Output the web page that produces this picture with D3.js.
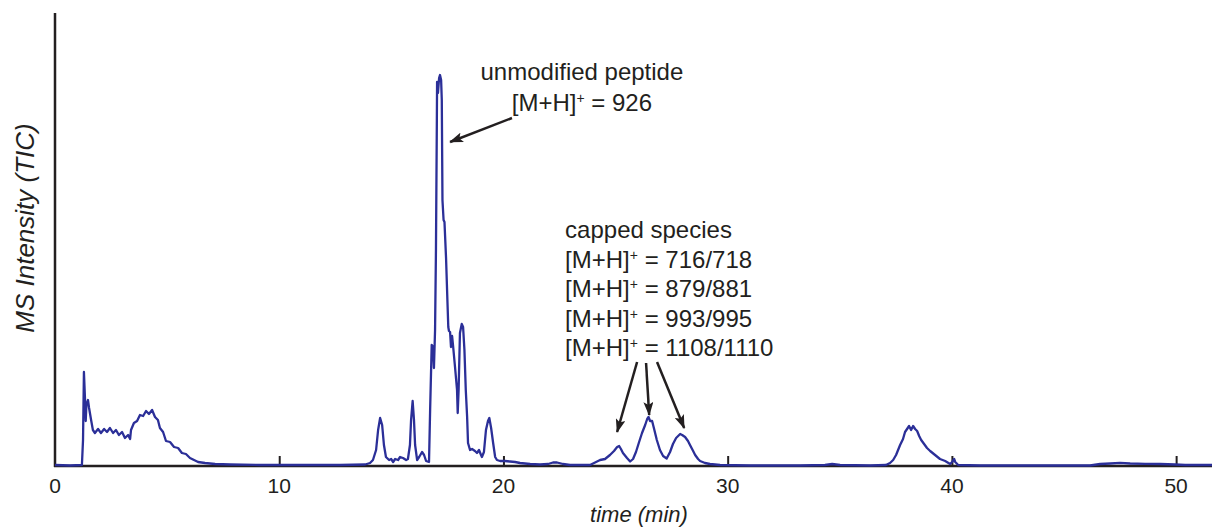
<!DOCTYPE html>
<html>
<head>
<meta charset="utf-8">
<script src="https://cdn.jsdelivr.net/npm/d3@7"></script>
<style>
  body { margin: 0; background: #fff; }
  svg text { font-family: Helvetica, Arial, "Liberation Sans", sans-serif; fill: #231f20; }
</style>
</head>
<body>
<svg id="chart"></svg>
<script>
var width = 1212;
var height = 527;

// retention time (min)
var times = [0, 0.67, 1.20, 1.25, 1.29, 1.34, 1.37, 1.40, 1.47, 1.52, 1.61, 1.69, 1.78, 1.92, 2.05, 2.19,
  2.32, 2.45, 2.59, 2.72, 2.85, 2.99, 3.12, 3.26, 3.35, 3.39, 3.52, 3.66, 3.79, 3.93, 4.06, 4.19,
  4.33, 4.46, 4.59, 4.68, 4.82, 4.95, 5.13, 5.31, 5.49, 5.66, 5.84, 6.02, 6.20, 6.38, 6.69, 7.14,
  7.81, 9.14, 10.93, 12.71, 13.83, 14.05, 14.18, 14.32, 14.41, 14.50, 14.59, 14.67, 14.76, 14.90,
  14.99, 15.08, 15.17, 15.30, 15.39, 15.52, 15.66, 15.74, 15.83, 15.88, 15.95, 16.01, 16.06, 16.15,
  16.24, 16.37, 16.46, 16.55, 16.68, 16.73, 16.80, 16.86, 16.90, 16.95, 16.99, 17.03, 17.04, 17.08,
  17.13, 17.17, 17.22, 17.25, 17.28, 17.33, 17.37, 17.44, 17.50, 17.54, 17.57, 17.62, 17.66, 17.71,
  17.75, 17.84, 17.93, 17.96, 18.00, 18.06, 18.14, 18.20, 18.26, 18.32, 18.38, 18.42, 18.51, 18.60,
  18.73, 18.82, 18.91, 19.00, 19.04, 19.13, 19.22, 19.31, 19.37, 19.45, 19.54, 19.63, 19.71, 19.85,
  20.07, 20.29, 20.52, 20.74, 21.19, 21.63, 21.99, 22.21, 22.39, 22.66, 22.97, 23.64, 23.86, 24.13,
  24.31, 24.53, 24.75, 24.93, 25.07, 25.16, 25.24, 25.33, 25.51, 25.65, 25.78, 25.91, 26.05, 26.18,
  26.32, 26.41, 26.47, 26.54, 26.63, 26.72, 26.84, 26.98, 27.12, 27.28, 27.43, 27.56, 27.70, 27.88,
  27.97, 28.10, 28.23, 28.32, 28.46, 28.55, 28.68, 28.77, 28.99, 29.21, 29.66, 31.00, 33.23, 34.34,
  34.66, 35.01, 36.35, 37.06, 37.24, 37.38, 37.51, 37.69, 37.82, 37.91, 38.00, 38.09, 38.18, 38.27,
  38.36, 38.45, 38.54, 38.63, 38.76, 38.89, 39.03, 39.25, 39.47, 39.70, 39.92, 40.01, 40.10, 40.15,
  40.28, 41.26, 44.38, 46.16, 46.61, 47.06, 47.50, 47.95, 48.62, 49.29, 49.96, 50.40, 51.61];

// total ion current (arbitrary units)
var tic = [1, 0.5, 1, 26, 94, 66, 45, 61, 66, 58, 46, 36, 33, 37, 33, 37,
  34, 38, 33, 36, 31, 34, 28, 31, 27, 36, 43, 45, 51, 50, 55, 52,
  56, 49, 46, 38, 34, 25, 24, 19, 18, 13, 12, 8, 6, 4, 3, 2,
  1.5, 1, 1, 1, 1.5, 3, 6, 16, 36, 48, 41, 21, 9, 6,
  7, 4, 7, 6, 9, 8, 6, 7, 21, 46, 65, 46, 21, 6,
  9, 14, 11, 5, 4, 56, 121, 119, 98, 136, 216, 346, 384, 373,
  388, 391, 386, 366, 266, 246, 244, 208, 166, 139, 135, 134, 119, 130,
  121, 99, 76, 53, 76, 133, 142, 139, 116, 76, 49, 23, 16, 17,
  15, 13, 16, 11, 9, 14, 36, 45, 48, 38, 23, 9, 6, 5,
  5, 4.5, 4, 3, 2, 1.5, 2, 3.5, 3.5, 2, 1, 1, 1, 4,
  6, 7, 11, 15, 19, 20, 17, 13, 8, 4.5, 7, 14, 24, 33,
  41, 47, 49, 45, 45, 37, 26, 16, 10, 7.5, 14, 22, 28, 32,
  31, 29, 25, 21, 15, 11, 7, 5, 3, 2, 1, 0.5, 0.5, 1,
  2, 1, 0.5, 1, 3, 6, 11, 21, 27, 34, 37, 40, 36, 40,
  37, 35, 30, 26, 22, 18, 15, 11, 7, 5, 2, 4, 7, 4,
  1, 0.5, 0.5, 0.5, 2, 2.5, 3.2, 2.5, 2.2, 2, 1.5, 1, 1];

var xTicks = [10, 20, 30, 40, 50];
var xTickLabels = ["0", "10", "20", "30", "40", "50"];

// annotation texts
var peptideLines = ["unmodified peptide", "926"];
var cappedTitle = "capped species";
var cappedMasses = ["716/718", "879/881", "993/995", "1108/1110"];

// arrows [fromTime, fromTic, toTime, toTic]
var peptideArrow = [20.38, 348, 17.62, 324];
var cappedArrows = [
  [25.96, 104, 25.07, 34],
  [26.36, 103, 26.50, 51],
  [26.85, 104, 28.06, 38]
];

var data = times.map(function(t, i) { return {t: t, v: tic[i]}; });

var svg = d3.select("#chart")
  .attr("width", width)
  .attr("height", height);

var x = d3.scaleLinear().domain([0, 51.6]).range([55, 1212]);
var y = d3.scaleLinear().domain([0, 452]).range([466, 14]);

// arrow head
svg.append("defs").append("marker")
  .attr("id", "head")
  .attr("viewBox", "0 0 14 10")
  .attr("refX", 13)
  .attr("refY", 5)
  .attr("markerWidth", 14)
  .attr("markerHeight", 10)
  .attr("markerUnits", "userSpaceOnUse")
  .attr("orient", "auto")
  .append("path")
  .attr("d", "M0,0 L14,5 L0,10 L3,5 Z")
  .attr("fill", "#231f20");

// axes
var xAxis = d3.axisBottom(x)
  .tickValues(xTicks)
  .tickSize(-10)
  .tickFormat("");

var gx = svg.append("g")
  .attr("transform", "translate(0,466)")
  .call(xAxis);
gx.select(".domain").remove();
gx.selectAll(".tick line").attr("stroke", "#231f20").attr("stroke-width", 2);

svg.append("line")
  .attr("x1", x(0) - 1).attr("x2", width)
  .attr("y1", 466).attr("y2", 466)
  .attr("stroke", "#231f20").attr("stroke-width", 2.5);

svg.append("line")
  .attr("x1", x(0)).attr("x2", x(0))
  .attr("y1", 13).attr("y2", 467)
  .attr("stroke", "#231f20").attr("stroke-width", 2.5);

svg.selectAll(".xlabel")
  .data(xTickLabels)
  .enter()
  .append("text")
  .attr("class", "xlabel")
  .attr("x", function(d) { return x(+d); })
  .attr("y", 493)
  .attr("text-anchor", "middle")
  .style("font-size", "21px")
  .text(function(d) { return d; });

svg.append("text")
  .attr("x", 639)
  .attr("y", 522)
  .attr("text-anchor", "middle")
  .style("font-size", "22px")
  .style("font-style", "italic")
  .text("time (min)");

svg.append("text")
  .attr("transform", "translate(34,228) rotate(-90)")
  .attr("text-anchor", "middle")
  .style("font-size", "26px")
  .style("font-style", "italic")
  .text("MS Intensity (TIC)");

// trace
var line = d3.line()
  .x(function(d) { return x(d.t); })
  .y(function(d) { return y(d.v); });

svg.append("path")
  .datum(data)
  .attr("d", line)
  .attr("fill", "none")
  .attr("stroke", "#2b2f98")
  .attr("stroke-width", 2.3)
  .attr("stroke-linejoin", "round");

// annotations
function massLabel(sel, value) {
  sel.append("tspan").text("[M+H]");
  sel.append("tspan").attr("dy", -8).style("font-size", "14px").text("+");
  sel.append("tspan").attr("dy", 8).text(" = " + value);
}

svg.append("text")
  .attr("x", x(23.5))
  .attr("y", y(386))
  .attr("text-anchor", "middle")
  .style("font-size", "24px")
  .text(peptideLines[0]);

svg.append("text")
  .attr("x", x(23.5))
  .attr("y", y(355))
  .attr("text-anchor", "middle")
  .style("font-size", "24px")
  .call(massLabel, peptideLines[1]);

svg.append("text")
  .attr("x", x(22.75))
  .attr("y", 238)
  .style("font-size", "24px")
  .text(cappedTitle);

cappedMasses.forEach(function(m, i) {
  svg.append("text")
    .attr("x", x(22.75))
    .attr("y", 268 + i * 29.3)
    .style("font-size", "24px")
    .call(massLabel, m);
});

[peptideArrow].concat(cappedArrows).forEach(function(a) {
  svg.append("line")
    .attr("x1", x(a[0])).attr("y1", y(a[1]))
    .attr("x2", x(a[2])).attr("y2", y(a[3]))
    .attr("stroke", "#231f20")
    .attr("stroke-width", 2.5)
    .attr("marker-end", "url(#head)");
});
</script>
</body>
</html>
